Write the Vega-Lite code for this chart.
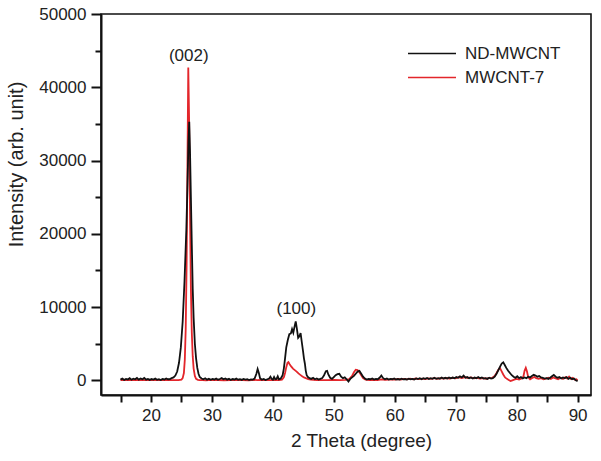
{
  "$schema": "https://vega.github.io/schema/vega-lite/v6.json",
  "width": 490,
  "height": 381,
  "autosize": "none",
  "padding": {"left": 101, "top": 14, "right": 10, "bottom": 66},
  "background": "white",
  "config": {
    "font": "Liberation Sans",
    "view": {"stroke": "#111", "strokeWidth": 1.6},
    "axis": {"grid": false, "domainColor": "#111", "domainWidth": 2, "tickColor": "#111", "tickWidth": 2, "labelColor": "#222", "titleColor": "#222", "labelFontSize": 17, "titleFontSize": 19, "titleFontWeight": "normal", "labelOverlap": false, "labelFlush": false},
    "legend": {"labelFontSize": 17, "labelColor": "#222"}
  },
  "datasets": {
    "m7": [
      {"x":15.0,"y":50},{"x":15.5,"y":80},{"x":16.0,"y":30},{"x":16.5,"y":60},{"x":17.0,"y":20},{"x":17.5,"y":70},{"x":18.0,"y":40},{"x":18.5,"y":60},{"x":19.0,"y":20},{"x":19.5,"y":50},{"x":20.0,"y":30},{"x":20.5,"y":60},{"x":21.0,"y":20},{"x":21.5,"y":40},{"x":22.0,"y":20},{"x":22.5,"y":50},{"x":23.0,"y":20},{"x":23.5,"y":30},{"x":24.0,"y":20},{"x":24.5,"y":40},{"x":25.0,"y":100},{"x":25.2,"y":300},{"x":25.4,"y":1000},{"x":25.55,"y":2800},{"x":25.7,"y":7000},{"x":25.85,"y":16000},{"x":26.0,"y":31000},{"x":26.12,"y":42700},{"x":26.25,"y":36000},{"x":26.4,"y":23000},{"x":26.55,"y":12500},{"x":26.7,"y":6500},{"x":26.85,"y":3300},{"x":27.0,"y":1600},{"x":27.2,"y":600},{"x":27.4,"y":200},{"x":27.7,"y":60},{"x":28.0,"y":20},{"x":28.5,"y":40},{"x":29.0,"y":10},{"x":29.5,"y":50},{"x":30.0,"y":20},{"x":31.0,"y":40},{"x":32.0,"y":10},{"x":33.0,"y":50},{"x":34.0,"y":20},{"x":35.0,"y":40},{"x":36.0,"y":10},{"x":37.0,"y":60},{"x":37.5,"y":30},{"x":38.0,"y":50},{"x":39.0,"y":20},{"x":40.0,"y":40},{"x":41.0,"y":30},{"x":41.5,"y":100},{"x":41.8,"y":400},{"x":42.0,"y":1000},{"x":42.2,"y":1800},{"x":42.4,"y":2400},{"x":42.55,"y":2500},{"x":42.75,"y":2200},{"x":43.0,"y":1900},{"x":43.3,"y":1600},{"x":43.6,"y":1400},{"x":43.9,"y":1200},{"x":44.2,"y":950},{"x":44.5,"y":750},{"x":44.8,"y":550},{"x":45.1,"y":400},{"x":45.4,"y":300},{"x":45.8,"y":180},{"x":46.2,"y":100},{"x":46.7,"y":60},{"x":47.2,"y":30},{"x":48.0,"y":40},{"x":49.0,"y":20},{"x":50.0,"y":50},{"x":51.0,"y":30},{"x":52.0,"y":60},{"x":52.5,"y":150},{"x":53.0,"y":600},{"x":53.3,"y":1100},{"x":53.6,"y":1450},{"x":53.9,"y":1400},{"x":54.2,"y":1100},{"x":54.5,"y":700},{"x":54.8,"y":300},{"x":55.2,"y":100},{"x":55.8,"y":50},{"x":56.5,"y":80},{"x":57.2,"y":40},{"x":57.8,"y":120},{"x":58.4,"y":60},{"x":59.0,"y":100},{"x":59.5,"y":150},{"x":60.0,"y":100},{"x":60.5,"y":180},{"x":61.0,"y":120},{"x":61.5,"y":200},{"x":62.0,"y":140},{"x":62.5,"y":220},{"x":63.0,"y":150},{"x":63.5,"y":250},{"x":64.0,"y":170},{"x":64.5,"y":230},{"x":65.0,"y":180},{"x":65.5,"y":260},{"x":66.0,"y":200},{"x":66.5,"y":290},{"x":67.0,"y":210},{"x":67.5,"y":300},{"x":68.0,"y":240},{"x":68.5,"y":320},{"x":69.0,"y":250},{"x":69.5,"y":350},{"x":70.0,"y":280},{"x":70.5,"y":420},{"x":71.0,"y":300},{"x":71.5,"y":450},{"x":72.0,"y":320},{"x":72.5,"y":400},{"x":73.0,"y":280},{"x":73.5,"y":350},{"x":74.0,"y":250},{"x":74.5,"y":300},{"x":75.0,"y":220},{"x":75.5,"y":300},{"x":76.0,"y":350},{"x":76.4,"y":600},{"x":76.7,"y":1000},{"x":77.0,"y":1450},{"x":77.25,"y":1700},{"x":77.5,"y":1300},{"x":77.8,"y":800},{"x":78.1,"y":400},{"x":78.4,"y":200},{"x":78.7,"y":50},{"x":79.0,"y":-100},{"x":79.3,"y":0},{"x":79.6,"y":100},{"x":80.0,"y":200},{"x":80.4,"y":100},{"x":80.8,"y":250},{"x":81.1,"y":500},{"x":81.3,"y":1300},{"x":81.5,"y":1700},{"x":81.7,"y":1200},{"x":81.9,"y":400},{"x":82.2,"y":150},{"x":82.5,"y":300},{"x":82.9,"y":450},{"x":83.2,"y":300},{"x":83.6,"y":200},{"x":84.0,"y":300},{"x":84.4,"y":150},{"x":84.8,"y":250},{"x":85.2,"y":350},{"x":85.6,"y":200},{"x":86.0,"y":400},{"x":86.4,"y":250},{"x":86.8,"y":150},{"x":87.2,"y":350},{"x":87.6,"y":200},{"x":88.0,"y":450},{"x":88.3,"y":250},{"x":88.6,"y":500},{"x":88.9,"y":200},{"x":89.2,"y":350},{"x":89.5,"y":100},{"x":89.8,"y":150},{"x":90.0,"y":0}
    ],
    "nd": [
      {"x":15.0,"y":100},{"x":15.3,"y":250},{"x":15.6,"y":50},{"x":15.9,"y":200},{"x":16.2,"y":120},{"x":16.5,"y":300},{"x":16.8,"y":80},{"x":17.1,"y":220},{"x":17.4,"y":150},{"x":17.7,"y":320},{"x":18.0,"y":100},{"x":18.3,"y":260},{"x":18.6,"y":140},{"x":18.9,"y":330},{"x":19.2,"y":90},{"x":19.5,"y":200},{"x":19.8,"y":60},{"x":20.1,"y":180},{"x":20.4,"y":110},{"x":20.7,"y":240},{"x":21.0,"y":70},{"x":21.3,"y":150},{"x":21.6,"y":40},{"x":21.9,"y":200},{"x":22.2,"y":120},{"x":22.5,"y":250},{"x":22.8,"y":150},{"x":23.1,"y":180},{"x":23.4,"y":300},{"x":23.7,"y":400},{"x":24.0,"y":650},{"x":24.3,"y":1200},{"x":24.6,"y":2400},{"x":24.9,"y":4500},{"x":25.2,"y":8000},{"x":25.5,"y":13500},{"x":25.8,"y":20500},{"x":26.0,"y":27000},{"x":26.15,"y":32500},{"x":26.28,"y":35300},{"x":26.4,"y":31500},{"x":26.55,"y":25000},{"x":26.7,"y":18500},{"x":26.85,"y":12500},{"x":27.0,"y":8500},{"x":27.2,"y":5000},{"x":27.4,"y":3000},{"x":27.6,"y":1700},{"x":27.8,"y":900},{"x":28.0,"y":450},{"x":28.3,"y":250},{"x":28.6,"y":150},{"x":28.9,"y":280},{"x":29.2,"y":100},{"x":29.5,"y":220},{"x":29.8,"y":80},{"x":30.1,"y":200},{"x":30.4,"y":120},{"x":30.7,"y":260},{"x":31.0,"y":90},{"x":31.3,"y":180},{"x":31.6,"y":300},{"x":31.9,"y":140},{"x":32.2,"y":250},{"x":32.5,"y":100},{"x":32.8,"y":220},{"x":33.1,"y":60},{"x":33.4,"y":180},{"x":33.7,"y":120},{"x":34.0,"y":240},{"x":34.3,"y":90},{"x":34.6,"y":170},{"x":34.9,"y":60},{"x":35.2,"y":200},{"x":35.5,"y":110},{"x":35.8,"y":160},{"x":36.1,"y":50},{"x":36.4,"y":140},{"x":36.7,"y":100},{"x":37.0,"y":250},{"x":37.3,"y":900},{"x":37.5,"y":1550},{"x":37.7,"y":1000},{"x":37.9,"y":300},{"x":38.2,"y":100},{"x":38.5,"y":200},{"x":38.8,"y":50},{"x":39.1,"y":150},{"x":39.4,"y":250},{"x":39.6,"y":500},{"x":39.8,"y":200},{"x":40.0,"y":100},{"x":40.2,"y":450},{"x":40.4,"y":150},{"x":40.6,"y":200},{"x":40.8,"y":550},{"x":41.0,"y":150},{"x":41.3,"y":250},{"x":41.6,"y":700},{"x":41.8,"y":1600},{"x":42.0,"y":3000},{"x":42.2,"y":4500},{"x":42.45,"y":5500},{"x":42.7,"y":6300},{"x":42.95,"y":6400},{"x":43.15,"y":7000},{"x":43.35,"y":6500},{"x":43.55,"y":7300},{"x":43.75,"y":8050},{"x":43.95,"y":7000},{"x":44.15,"y":5800},{"x":44.35,"y":6000},{"x":44.55,"y":6450},{"x":44.75,"y":5200},{"x":44.95,"y":4000},{"x":45.1,"y":3000},{"x":45.25,"y":2300},{"x":45.4,"y":1300},{"x":45.55,"y":700},{"x":45.75,"y":450},{"x":46.0,"y":300},{"x":46.3,"y":200},{"x":46.6,"y":350},{"x":46.9,"y":150},{"x":47.2,"y":250},{"x":47.5,"y":100},{"x":47.8,"y":200},{"x":48.1,"y":300},{"x":48.4,"y":700},{"x":48.7,"y":1250},{"x":48.9,"y":1300},{"x":49.1,"y":800},{"x":49.4,"y":350},{"x":49.7,"y":200},{"x":50.0,"y":450},{"x":50.3,"y":700},{"x":50.6,"y":850},{"x":50.9,"y":900},{"x":51.2,"y":500},{"x":51.5,"y":300},{"x":51.8,"y":400},{"x":52.1,"y":150},{"x":52.4,"y":-150},{"x":52.7,"y":200},{"x":53.0,"y":400},{"x":53.3,"y":600},{"x":53.6,"y":900},{"x":53.9,"y":1200},{"x":54.2,"y":1300},{"x":54.5,"y":900},{"x":54.8,"y":500},{"x":55.1,"y":250},{"x":55.4,"y":100},{"x":55.7,"y":200},{"x":56.0,"y":150},{"x":56.3,"y":250},{"x":56.6,"y":100},{"x":56.9,"y":200},{"x":57.2,"y":150},{"x":57.5,"y":350},{"x":57.8,"y":650},{"x":58.1,"y":300},{"x":58.4,"y":150},{"x":58.7,"y":250},{"x":59.0,"y":100},{"x":59.3,"y":200},{"x":59.6,"y":150},{"x":59.9,"y":250},{"x":60.2,"y":100},{"x":60.5,"y":180},{"x":60.8,"y":120},{"x":61.1,"y":220},{"x":61.4,"y":130},{"x":61.7,"y":180},{"x":62.0,"y":100},{"x":62.3,"y":230},{"x":62.6,"y":150},{"x":62.9,"y":200},{"x":63.2,"y":120},{"x":63.5,"y":250},{"x":63.8,"y":170},{"x":64.1,"y":280},{"x":64.4,"y":160},{"x":64.7,"y":300},{"x":65.0,"y":200},{"x":65.3,"y":320},{"x":65.6,"y":180},{"x":65.9,"y":290},{"x":66.2,"y":200},{"x":66.5,"y":350},{"x":66.8,"y":220},{"x":67.1,"y":300},{"x":67.4,"y":230},{"x":67.7,"y":380},{"x":68.0,"y":260},{"x":68.3,"y":350},{"x":68.6,"y":250},{"x":68.9,"y":400},{"x":69.2,"y":280},{"x":69.5,"y":380},{"x":69.8,"y":300},{"x":70.1,"y":450},{"x":70.4,"y":350},{"x":70.7,"y":550},{"x":71.0,"y":400},{"x":71.3,"y":650},{"x":71.6,"y":350},{"x":71.9,"y":450},{"x":72.2,"y":300},{"x":72.5,"y":400},{"x":72.8,"y":250},{"x":73.1,"y":380},{"x":73.4,"y":300},{"x":73.7,"y":450},{"x":74.0,"y":300},{"x":74.3,"y":400},{"x":74.6,"y":250},{"x":74.9,"y":300},{"x":75.2,"y":200},{"x":75.5,"y":350},{"x":75.8,"y":250},{"x":76.1,"y":300},{"x":76.4,"y":500},{"x":76.7,"y":900},{"x":77.0,"y":1400},{"x":77.3,"y":1900},{"x":77.55,"y":2300},{"x":77.8,"y":2450},{"x":78.05,"y":2100},{"x":78.3,"y":1700},{"x":78.6,"y":1300},{"x":78.9,"y":1000},{"x":79.2,"y":700},{"x":79.5,"y":500},{"x":79.8,"y":350},{"x":80.1,"y":550},{"x":80.4,"y":300},{"x":80.7,"y":450},{"x":81.0,"y":250},{"x":81.3,"y":400},{"x":81.6,"y":300},{"x":81.9,"y":500},{"x":82.2,"y":400},{"x":82.5,"y":600},{"x":82.8,"y":750},{"x":83.1,"y":650},{"x":83.4,"y":500},{"x":83.7,"y":600},{"x":84.0,"y":400},{"x":84.3,"y":350},{"x":84.6,"y":250},{"x":84.9,"y":300},{"x":85.2,"y":200},{"x":85.5,"y":350},{"x":85.8,"y":550},{"x":86.1,"y":750},{"x":86.4,"y":500},{"x":86.7,"y":350},{"x":87.0,"y":450},{"x":87.3,"y":250},{"x":87.6,"y":400},{"x":87.9,"y":300},{"x":88.2,"y":450},{"x":88.5,"y":200},{"x":88.8,"y":350},{"x":89.1,"y":150},{"x":89.4,"y":250},{"x":89.7,"y":0},{"x":90.0,"y":-100}
    ],
    "labels": [
      {"x": 26.2, "y": 44200, "t": "(002)"},
      {"x": 43.85, "y": 9780, "t": "(100)"}
    ]
  },
  "layer": [
    {
      "data": {"name": "m7"},
      "mark": {"type": "line", "strokeWidth": 1.8, "clip": true},
      "encoding": {
        "x": {"field": "x", "type": "quantitative",
          "scale": {"domain": [11.8, 92.2], "nice": false, "zero": false},
          "axis": {"title": "2 Theta (degree)", "format": "d", "values": [15,20,25,30,35,40,45,50,55,60,65,70,75,80,85,90], "tickCount": 40, "labelExpr": "datum.value % 10 === 0 ? datum.label : ''", "labelOverlap": false, "tickSize": 7, "labelPadding": 5, "titlePadding": 8, "titleX": 260}},
        "y": {"field": "y", "type": "quantitative",
          "scale": {"domain": [-2000, 50000], "nice": false, "zero": false},
          "axis": {"title": "Intensity (arb. unit)", "format": "d", "values": [0,5000,10000,15000,20000,25000,30000,35000,40000,45000,50000], "tickCount": 40, "labelExpr": "datum.value % 10000 === 0 ? datum.label : ''", "tickSize": {"condition": {"test": "datum.value % 10000 === 0", "value": 10}, "value": 6}, "labelPadding": 5, "titleX": -85, "titleY": 150, "titleBaseline": "middle", "titleFontSize": 20}},
        "color": {"datum": "MWCNT-7", "type": "nominal",
          "scale": {"domain": ["ND-MWCNT", "MWCNT-7"], "range": ["#111111", "#e3262b"]},
          "legend": {"title": null, "orient": "none", "legendX": 306, "legendY": 31, "padding": 0, "symbolType": "stroke", "symbolSize": 2304, "symbolStrokeWidth": 1.5, "clipHeight": 17, "rowPadding": 6, "labelOffset": 8}}
      }
    },
    {
      "data": {"name": "nd"},
      "mark": {"type": "line", "strokeWidth": 1.8, "clip": true},
      "encoding": {
        "x": {"field": "x", "type": "quantitative"},
        "y": {"field": "y", "type": "quantitative"},
        "color": {"datum": "ND-MWCNT", "type": "nominal"}
      }
    },
    {
      "data": {"name": "labels"},
      "mark": {"type": "text", "fontSize": 17, "color": "#222", "align": "center", "baseline": "middle"},
      "encoding": {
        "x": {"field": "x", "type": "quantitative"},
        "y": {"field": "y", "type": "quantitative"},
        "text": {"field": "t"}
      }
    }
  ]
}
